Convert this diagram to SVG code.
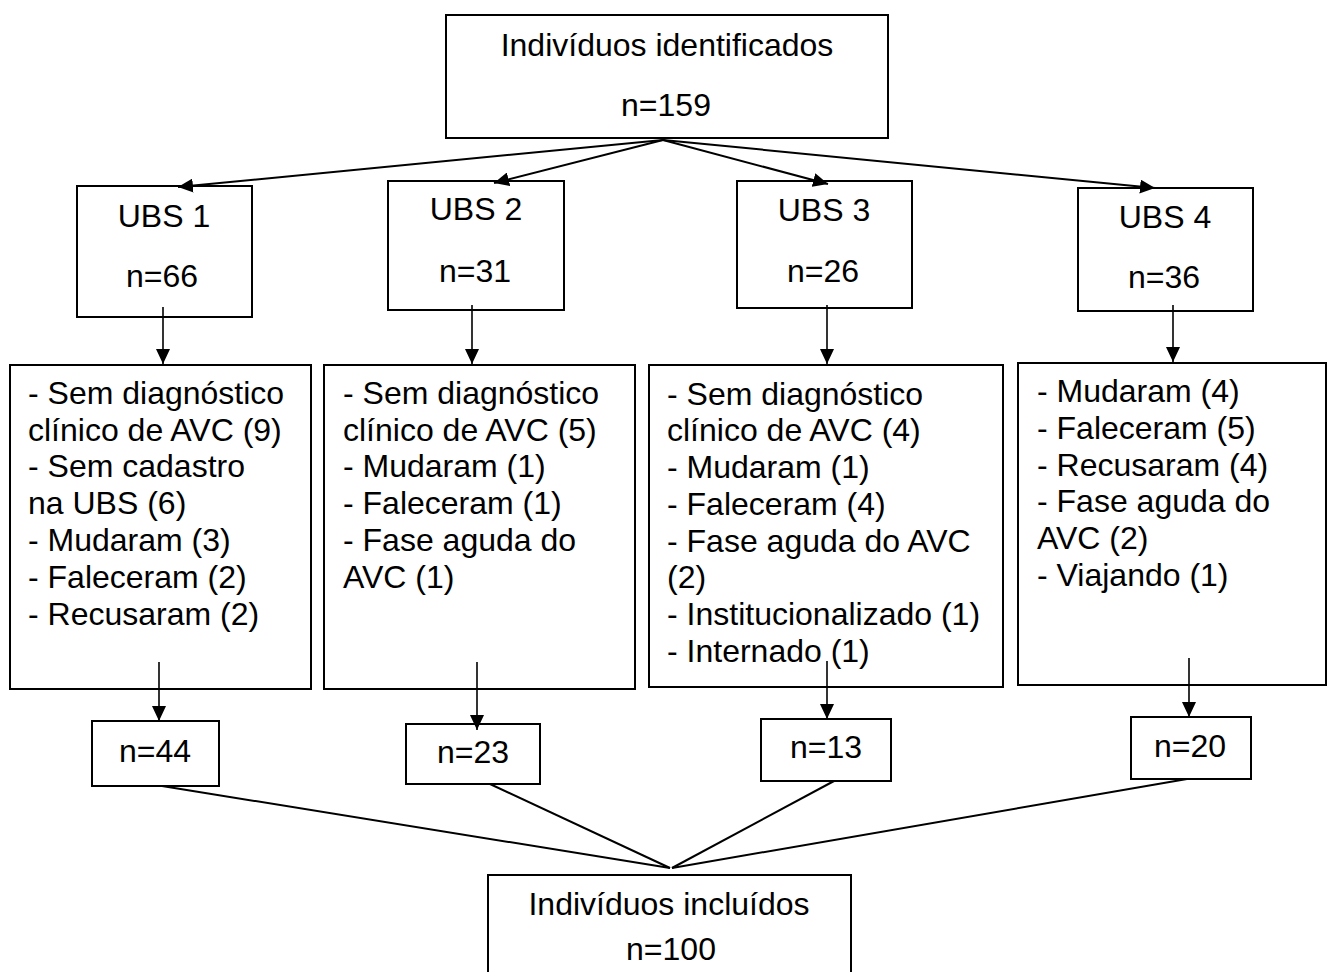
<svg xmlns="http://www.w3.org/2000/svg" width="1328" height="972" viewBox="0 0 1328 972">
<style>
.box{fill:#fff;stroke:#000;stroke-width:2}
.t{font-family:"Liberation Sans",Arial,sans-serif;font-size:32px;fill:#000}
.c{text-anchor:middle}
.ln{stroke:#000;stroke-width:2;fill:none}
.ar{stroke:#000;stroke-width:1.6;fill:none}
</style>
<defs>
<marker id="ah" markerUnits="userSpaceOnUse" markerWidth="16" markerHeight="14" refX="15" refY="7" orient="auto" viewBox="0 0 16 14">
<path d="M0,0 L15,7 L0,14 z" fill="#000"/>
</marker>
</defs>
<rect width="1328" height="972" fill="#fff"/>

<g id="top">
<rect class="box" x="446" y="15" width="442" height="123"/>
<text class="t c" x="667" y="56">Indivíduos identificados</text>
<text class="t c" x="666" y="116">n=159</text>
</g>

<g id="ubs1">
<rect class="box" x="77" y="186" width="175" height="131"/>
<text class="t c" x="164" y="227">UBS 1</text>
<text class="t c" x="162" y="287">n=66</text>
</g>
<g id="ubs2">
<rect class="box" x="388" y="181" width="176" height="129"/>
<text class="t c" x="476" y="220">UBS 2</text>
<text class="t c" x="475" y="282">n=31</text>
</g>
<g id="ubs3">
<rect class="box" x="737" y="181" width="175" height="127"/>
<text class="t c" x="824" y="221">UBS 3</text>
<text class="t c" x="823" y="282">n=26</text>
</g>
<g id="ubs4">
<rect class="box" x="1078" y="188" width="175" height="123"/>
<text class="t c" x="1165" y="228">UBS 4</text>
<text class="t c" x="1164" y="288">n=36</text>
</g>

<g id="excl1">
<rect class="box" x="10" y="365" width="301" height="324"/>
<text class="t" x="28" y="404">- Sem diagnóstico</text>
<text class="t" x="28" y="441">clínico de AVC (9)</text>
<text class="t" x="28" y="477">- Sem cadastro</text>
<text class="t" x="28" y="514">na UBS (6)</text>
<text class="t" x="28" y="551">- Mudaram (3)</text>
<text class="t" x="28" y="588">- Faleceram (2)</text>
<text class="t" x="28" y="625">- Recusaram (2)</text>
</g>
<g id="excl2">
<rect class="box" x="324" y="365" width="311" height="324"/>
<text class="t" x="343" y="404">- Sem diagnóstico</text>
<text class="t" x="343" y="441">clínico de AVC (5)</text>
<text class="t" x="343" y="477">- Mudaram (1)</text>
<text class="t" x="343" y="514">- Faleceram (1)</text>
<text class="t" x="343" y="551">- Fase aguda do</text>
<text class="t" x="343" y="588">AVC (1)</text>
</g>
<g id="excl3">
<rect class="box" x="649" y="365" width="354" height="322"/>
<text class="t" x="667" y="405">- Sem diagnóstico</text>
<text class="t" x="667" y="441">clínico de AVC (4)</text>
<text class="t" x="667" y="478">- Mudaram (1)</text>
<text class="t" x="667" y="515">- Faleceram (4)</text>
<text class="t" x="667" y="552">- Fase aguda do AVC</text>
<text class="t" x="667" y="588">(2)</text>
<text class="t" x="667" y="625">- Institucionalizado (1)</text>
<text class="t" x="667" y="662">- Internado (1)</text>
</g>
<g id="excl4">
<rect class="box" x="1018" y="363" width="308" height="322"/>
<text class="t" x="1037" y="402">- Mudaram (4)</text>
<text class="t" x="1037" y="439">- Faleceram (5)</text>
<text class="t" x="1037" y="476">- Recusaram (4)</text>
<text class="t" x="1037" y="512">- Fase aguda do</text>
<text class="t" x="1037" y="549">AVC (2)</text>
<text class="t" x="1037" y="586">- Viajando (1)</text>
</g>

<g id="n44">
<rect class="box" x="92" y="721" width="127" height="65"/>
<text class="t c" x="155" y="762">n=44</text>
</g>
<g id="n23">
<rect class="box" x="406" y="724" width="134" height="60"/>
<text class="t c" x="473" y="763">n=23</text>
</g>
<g id="n13">
<rect class="box" x="761" y="719" width="130" height="62"/>
<text class="t c" x="826" y="758">n=13</text>
</g>
<g id="n20">
<rect class="box" x="1131" y="717" width="120" height="62"/>
<text class="t c" x="1190" y="757">n=20</text>
</g>

<g id="bottom">
<path class="ln" d="M488,980 L488,875 L851,875 L851,980"/>
<text class="t c" x="669" y="915">Indivíduos incluídos</text>
<text class="t c" x="671" y="960">n=100</text>
</g>

<g id="connectors">
<line class="ln" x1="663" y1="140" x2="178" y2="187" marker-end="url(#ah)"/>
<line class="ln" x1="663" y1="140" x2="494" y2="183" marker-end="url(#ah)"/>
<line class="ln" x1="663" y1="140" x2="828" y2="184" marker-end="url(#ah)"/>
<line class="ln" x1="663" y1="140" x2="1155" y2="188" marker-end="url(#ah)"/>

<line class="ar" x1="163" y1="307" x2="163" y2="364" marker-end="url(#ah)"/>
<line class="ar" x1="472" y1="305" x2="472" y2="364" marker-end="url(#ah)"/>
<line class="ar" x1="827" y1="305" x2="827" y2="364" marker-end="url(#ah)"/>
<line class="ar" x1="1173" y1="305" x2="1173" y2="362" marker-end="url(#ah)"/>

<line class="ar" x1="159" y1="662" x2="159" y2="721" marker-end="url(#ah)"/>
<line class="ar" x1="477" y1="662" x2="477" y2="730" marker-end="url(#ah)"/>
<line class="ar" x1="827" y1="661" x2="827" y2="719" marker-end="url(#ah)"/>
<line class="ar" x1="1189" y1="658" x2="1189" y2="717" marker-end="url(#ah)"/>

<line class="ln" x1="162" y1="786" x2="670" y2="868"/>
<line class="ln" x1="490" y1="784" x2="670" y2="868"/>
<line class="ln" x1="834" y1="781" x2="672" y2="868"/>
<line class="ln" x1="1187" y1="779" x2="672" y2="868"/>
</g>
</svg>
